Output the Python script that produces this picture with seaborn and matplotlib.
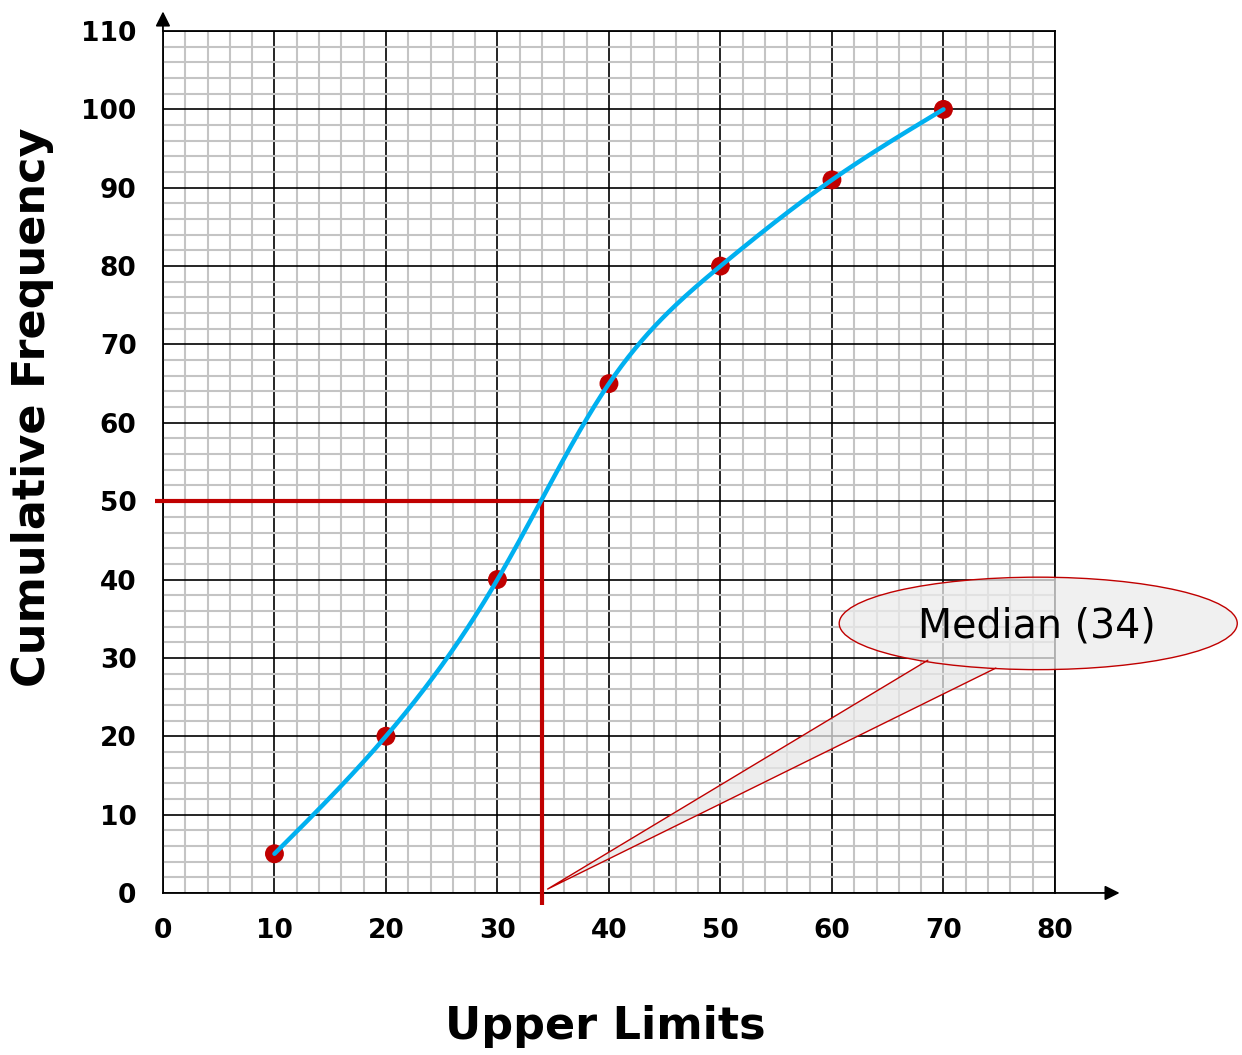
import matplotlib.pyplot as plt
import numpy as np
import seaborn as sns
from matplotlib.patches import Ellipse, Polygon

# cumulative frequency data
upper_limits = [10, 20, 30, 40, 50, 60, 70]
cum_freq = [5, 20, 40, 65, 80, 91, 100]
median_x = 34
median_y = 50
callout_text = 'Median (34)'

x_ticks = list(range(0, 81, 10))
y_ticks = list(range(0, 111, 10))

RED = '#c00000'
BLUE = '#00b0f0'


def natural_spline(x, y, n=400):
    """Natural cubic spline through the points (numpy only)."""
    x = np.asarray(x, float)
    y = np.asarray(y, float)
    k = len(x)
    h = np.diff(x)
    A = np.zeros((k, k))
    b = np.zeros(k)
    A[0, 0] = A[-1, -1] = 1
    for i in range(1, k - 1):
        A[i, i - 1] = h[i - 1]
        A[i, i] = 2 * (h[i - 1] + h[i])
        A[i, i + 1] = h[i]
        b[i] = 6 * ((y[i + 1] - y[i]) / h[i] - (y[i] - y[i - 1]) / h[i - 1])
    M = np.linalg.solve(A, b)
    xs = np.linspace(x[0], x[-1], n)
    idx = np.clip(np.searchsorted(x, xs) - 1, 0, k - 2)
    x0, x1 = x[idx], x[idx + 1]
    hh = x1 - x0
    t0, t1 = x1 - xs, xs - x0
    ys = (M[idx] * t0 ** 3 / (6 * hh) + M[idx + 1] * t1 ** 3 / (6 * hh)
          + (y[idx] / hh - M[idx] * hh / 6) * t0
          + (y[idx + 1] / hh - M[idx + 1] * hh / 6) * t1)
    return xs, ys


sns.set_style('white')
plt.rcParams['font.family'] = ['DejaVu Sans']
plt.rcParams['text.color'] = 'black'
plt.rcParams['axes.labelcolor'] = 'black'
plt.rcParams['xtick.color'] = 'black'
plt.rcParams['ytick.color'] = 'black'

fig = plt.figure(figsize=(12.42, 10.55), dpi=100)
ax = fig.add_axes([0.1312, 0.1536, 0.7182, 0.817])

xs, ys = natural_spline(upper_limits, cum_freq)
sns.scatterplot(x=upper_limits, y=cum_freq, s=185, color=RED,
                edgecolor='none', zorder=4, ax=ax)
sns.lineplot(x=xs, y=ys, color=BLUE, linewidth=3.2, zorder=5, ax=ax)

ax.set_xlim(0, 80)
ax.set_ylim(0, 110)
ax.set_xticks(x_ticks)
ax.set_yticks(y_ticks)
ax.set_xticks(np.arange(0, 81, 2), minor=True)
ax.set_yticks(np.arange(0, 111, 2), minor=True)
ax.grid(True, which='major', color='black', linewidth=1.2)
ax.grid(True, which='minor', color='#c4c4c4', linewidth=1.5)
ax.tick_params(which='both', length=0)
ax.tick_params(axis='x', pad=18, labelsize=19, labelcolor='black')
ax.tick_params(axis='y', pad=19, labelsize=19, labelcolor='black')
for lab in ax.get_xticklabels() + ax.get_yticklabels():
    lab.set_fontweight('bold')
for sp in ax.spines.values():
    sp.set_color('black')
    sp.set_linewidth(1.3)

ax.set_xlabel('Upper Limits', fontsize=32, fontweight='bold', va='center')
ax.set_ylabel('Cumulative Frequency', fontsize=32, fontweight='bold', va='center')
ax.xaxis.set_label_coords(0.4955, -0.155)
ax.yaxis.set_label_coords(-0.146, 0.563)

# axis arrows
ax.annotate('', xy=(85.8, 0), xytext=(80, 0), annotation_clip=False,
            arrowprops=dict(arrowstyle='-|>', color='black', lw=1.3,
                            mutation_scale=22, shrinkA=0, shrinkB=0))
ax.annotate('', xy=(0, 112.5), xytext=(0, 110), annotation_clip=False,
            arrowprops=dict(arrowstyle='-|>', color='black', lw=1.3,
                            mutation_scale=22, shrinkA=0, shrinkB=0))

# median guide lines
ax.plot([-0.7, median_x], [median_y, median_y], color=RED, lw=3,
        solid_capstyle='butt', clip_on=False, zorder=3)
ax.plot([median_x, median_x], [median_y, -1.5], color=RED, lw=3,
        solid_capstyle='butt', clip_on=False, zorder=3)

# callout
tail = [(68.6, 29.7), (34.5, 0.5), (74.7, 28.7)]
ax.add_patch(Polygon(tail, closed=True, facecolor='#e8e8e8', alpha=0.75,
                     edgecolor='none', clip_on=False, zorder=6))
ax.plot([p[0] for p in tail], [p[1] for p in tail], color=RED, lw=1,
        clip_on=False, zorder=7)
ax.add_patch(Ellipse((78.5, 34.4), 35.7, 11.8, facecolor='#ebebeb', alpha=0.75,
                     edgecolor='none', clip_on=False, zorder=6))
ax.add_patch(Ellipse((78.5, 34.4), 35.7, 11.8, facecolor='none',
                     edgecolor=RED, lw=1, clip_on=False, zorder=7))
ax.text(78.4, 34.0, callout_text, fontsize=28.5, ha='center', va='center',
        color='black', zorder=8, clip_on=False)

fig.savefig('out.png', dpi=100)
plt.close(fig)
